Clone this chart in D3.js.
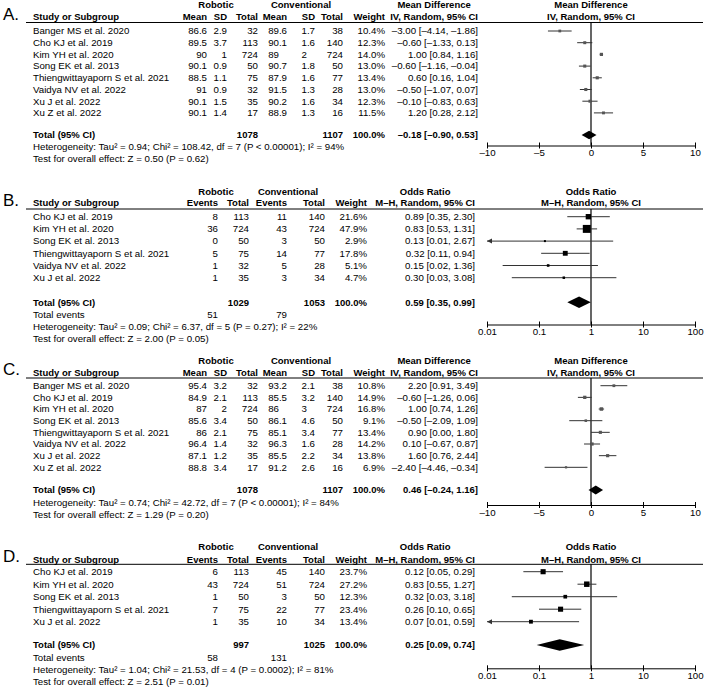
<!DOCTYPE html>
<html><head><meta charset="utf-8">
<script src="https://cdn.jsdelivr.net/npm/d3@7"></script>
<style>
body{margin:0;background:#fff}
text{font-family:"Liberation Sans",Arial,sans-serif;font-size:9.7px;fill:#000}
text.b{font-weight:bold;font-size:9.5px}
</style>
</head><body><svg id="c" width="705" height="688"></svg>
<script>
// ---------- DATA ----------
// Panel A (Mean Difference)
const studiesA = ["Banger MS et al. 2020","Cho KJ et al. 2019","Kim YH et al. 2020","Song EK et al. 2013","Thiengwittayaporn S et al. 2021","Vaidya NV et al. 2022","Xu J et al. 2022","Xu Z et al. 2022"];
const robMeanA = [86.6,89.5,90,90.1,88.5,91,90.1,90.1];
const robSDA = [2.9,3.7,1,0.9,1.1,0.9,1.5,1.4];
const robNA = [32,113,724,50,75,32,35,17];
const conMeanA = [89.6,90.1,89,90.7,87.9,91.5,90.2,88.9];
const conSDA = [1.7,1.6,2,1.8,1.6,1.3,1.6,1.3];
const conNA = [38,140,724,50,77,28,34,16];
const weightA = [10.4,12.3,14.0,13.0,13.4,13.0,12.3,11.5];
const effA = [-3.00,-0.60,1.00,-0.60,0.60,-0.50,-0.10,1.20];
const loA = [-4.14,-1.33,0.84,-1.16,0.16,-1.07,-0.83,0.28];
const hiA = [-1.86,0.13,1.16,-0.04,1.04,0.07,0.63,2.12];
const totalA = {rob:1078, con:1107, est:-0.18, lo:-0.90, hi:0.53};
const hetA = "Heterogeneity: Tau² = 0.94; Chi² = 108.42, df = 7 (P < 0.00001); I² = 94%";
const testA = "Test for overall effect: Z = 0.50 (P = 0.62)";

// Panel B (Odds Ratio)
const studiesB = ["Cho KJ et al. 2019","Kim YH et al. 2020","Song EK et al. 2013","Thiengwittayaporn S et al. 2021","Vaidya NV et al. 2022","Xu J et al. 2022"];
const robEvB = [8,36,0,5,1,1];
const robNB = [113,724,50,75,32,35];
const conEvB = [11,43,3,14,5,3];
const conNB = [140,724,50,77,28,34];
const weightB = [21.6,47.9,2.9,17.8,5.1,4.7];
const effB = [0.89,0.83,0.13,0.32,0.15,0.30];
const loB = [0.35,0.53,0.01,0.11,0.02,0.03];
const hiB = [2.30,1.31,2.67,0.94,1.36,3.08];
const totalB = {rob:1029, con:1053, robEv:51, conEv:79, est:0.59, lo:0.35, hi:0.99};
const hetB = "Heterogeneity: Tau² = 0.09; Chi² = 6.37, df = 5 (P = 0.27); I² = 22%";
const testB = "Test for overall effect: Z = 2.00 (P = 0.05)";

// Panel C (Mean Difference)
const studiesC = ["Banger MS et al. 2020","Cho KJ et al. 2019","Kim YH et al. 2020","Song EK et al. 2013","Thiengwittayaporn S et al. 2021","Vaidya NV et al. 2022","Xu J et al. 2022","Xu Z et al. 2022"];
const robMeanC = [95.4,84.9,87,85.6,86,96.4,87.1,88.8];
const robSDC = [3.2,2.1,2,3.4,2.1,1.4,1.2,3.4];
const robNC = [32,113,724,50,75,32,35,17];
const conMeanC = [93.2,85.5,86,86.1,85.1,96.3,85.5,91.2];
const conSDC = [2.1,3.2,3,4.6,3.4,1.6,2.2,2.6];
const conNC = [38,140,724,50,77,28,34,16];
const weightC = [10.8,14.9,16.8,9.1,13.4,14.2,13.8,6.9];
const effC = [2.20,-0.60,1.00,-0.50,0.90,0.10,1.60,-2.40];
const loC = [0.91,-1.26,0.74,-2.09,0.00,-0.67,0.76,-4.46];
const hiC = [3.49,0.06,1.26,1.09,1.80,0.87,2.44,-0.34];
const totalC = {rob:1078, con:1107, est:0.46, lo:-0.24, hi:1.16};
const hetC = "Heterogeneity: Tau² = 0.74; Chi² = 42.72, df = 7 (P < 0.00001); I² = 84%";
const testC = "Test for overall effect: Z = 1.29 (P = 0.20)";

// Panel D (Odds Ratio)
const studiesD = ["Cho KJ et al. 2019","Kim YH et al. 2020","Song EK et al. 2013","Thiengwittayaporn S et al. 2021","Xu J et al. 2022"];
const robEvD = [6,43,1,7,1];
const robND = [113,724,50,75,35];
const conEvD = [45,51,3,22,10];
const conND = [140,724,50,77,34];
const weightD = [23.7,27.2,12.3,23.4,13.4];
const effD = [0.12,0.83,0.32,0.26,0.07];
const loD = [0.05,0.55,0.03,0.10,0.01];
const hiD = [0.29,1.27,3.18,0.65,0.59];
const totalD = {rob:997, con:1025, robEv:58, conEv:131, est:0.25, lo:0.09, hi:0.74};
const hetD = "Heterogeneity: Tau² = 1.04; Chi² = 21.53, df = 4 (P = 0.0002); I² = 81%";
const testD = "Test for overall effect: Z = 2.51 (P = 0.01)";

// Tick labels
const ticksMD = [-10,-5,0,5,10];
const ticksOR = [0.01,0.1,1,10,100];

// ---------- DRAWING ----------
const svg = d3.select("#c");
const dash = s => String(s).replace(/-/g, "\u2013");
const f2 = v => dash(v.toFixed(2));
const ciText = (e,l,h) => `${f2(e)} [${f2(l)}, ${f2(h)}]`;

const xMD = d3.scaleLinear().domain([-10,10]).range([487,695]);
const xOR = d3.scaleLog().domain([0.01,100]).range([487,695]);

// measure width of ".0" for decimal alignment
const tmp = svg.append("text").text(".0");
const decW = tmp.node().getComputedTextLength();
tmp.remove();

function txt(g, x, y, s, anchor, bold, size) {
  const t = g.append("text").attr("x", x).attr("y", y).attr("dy", "0.35em")
    .attr("text-anchor", anchor || "start").text(s);
  if (bold) t.attr("class", "b");
  if (size) t.style("font-size", size + "px");
  return t;
}
function decTxt(g, xr, y, v) {
  const s = String(v);
  txt(g, s.includes(".") ? xr : xr - decW, y, s, "end");
}

function drawPanel(p) {
  const g = svg.append("g");
  const x = p.type === "MD" ? xMD : xOR;
  const n = p.studies.length;
  const rowY = i => p.row0 + i * p.step;
  const L = p.layout;
  const x0 = x(p.type === "MD" ? 0 : 1);

  txt(g, 3, p.headY - 3, p.label, "start", false, 17);
  // group headers
  txt(g, L.robC, p.groupY, "Robotic", "middle", true);
  txt(g, L.conC, p.groupY, "Conventional", "middle", true);
  // column headers
  txt(g, 33, p.headY, "Study or Subgroup", "start", true);
  p.heads.forEach((h, i) => txt(g, L.cols[i], p.headY, h, "end", true));
  txt(g, L.weight, p.headY, "Weight", "end", true);
  const m = txt(g, L.ci, p.headY, p.method, "end", true);
  const mw = m.node().getComputedTextLength();
  txt(g, L.ci - mw / 2, p.groupY, p.effTitle, "middle", true);
  txt(g, x0, p.groupY, p.effTitle, "middle", true);
  txt(g, x0, p.headY, p.method, "middle", true);
  // header rule
  g.append("line").attr("x1", 26).attr("x2", 703).attr("y1", p.lineY).attr("y2", p.lineY)
    .attr("stroke", "#000").attr("stroke-width", 1);

  // rows
  for (let i = 0; i < n; i++) {
    const y = rowY(i);
    txt(g, 33, y, p.studies[i], "start");
    p.cells.forEach((arr, j) => {
      if (p.decimal[j]) decTxt(g, L.cols[j], y, arr[i]);
      else txt(g, L.cols[j], y, String(arr[i]), "end");
    });
    txt(g, L.weight, y, p.weight[i].toFixed(1) + "%", "end");
    txt(g, L.ci, y, ciText(p.eff[i], p.lo[i], p.hi[i]), "end");
  }

  // zero / null line
  g.append("line").attr("x1", x0).attr("x2", x0).attr("y1", p.lineY).attr("y2", p.axisY)
    .attr("stroke", "#000").attr("stroke-width", 1.2);

  // CIs & squares
  const [dmin] = x.domain();
  for (let i = 0; i < n; i++) {
    const y = rowY(i);
    const clipped = p.lo[i] <= dmin;
    const xl = clipped ? x(dmin) : x(p.lo[i]);
    g.append("line").attr("x1", xl).attr("x2", x(p.hi[i])).attr("y1", y).attr("y2", y)
      .attr("stroke", "#333").attr("stroke-width", 1);
    if (clipped) {
      g.append("path").attr("d", `M${xl},${y}l5,-2.5v5z`).attr("fill", "#333");
    }
    const s = Math.max(2, p.k * Math.sqrt(p.weight[i]));
    g.append("rect").attr("x", x(p.eff[i]) - s / 2).attr("y", y - s / 2)
      .attr("width", s).attr("height", s).attr("fill", p.sqCol);
  }

  // totals
  const ty = p.totalY;
  txt(g, 33, ty, "Total (95% CI)", "start", true);
  txt(g, L.cols[p.robTotCol], ty, String(p.total.rob), "end", true);
  txt(g, L.cols[p.conTotCol], ty, String(p.total.con), "end", true);
  txt(g, L.weight, ty, "100.0%", "end", true);
  txt(g, L.ci, ty, ciText(p.total.est, p.total.lo, p.total.hi), "end", true);
  const h = p.dH;
  g.append("path").attr("d",
    `M${x(p.total.lo)},${ty}L${x(p.total.est)},${ty - h}L${x(p.total.hi)},${ty}L${x(p.total.est)},${ty + h}Z`)
    .attr("fill", "#000");

  if (p.eventsY) {
    txt(g, 33, p.eventsY, "Total events", "start");
    txt(g, L.cols[0], p.eventsY, String(p.total.robEv), "end");
    txt(g, L.cols[2], p.eventsY, String(p.total.conEv), "end");
  }
  txt(g, 33, p.hetY, p.het, "start");
  txt(g, 33, p.testY, p.test, "start");

  // axis
  const ax = d3.axisBottom(x).tickValues(p.ticks).tickSizeOuter(0).tickSizeInner(3)
    .tickFormat(p.type === "MD" ? (d => dash(d)) : (d => String(d)));
  const ag = g.append("g").attr("transform", `translate(0,${p.axisY})`).call(ax);
  ag.select(".domain").attr("stroke", "#000");
  ag.selectAll(".tick line").attr("y1", -3).attr("y2", 3).attr("stroke", "#000");
  ag.selectAll(".tick text").attr("y", 4).attr("dy", "0.71em").attr("font-family", null).attr("font-size", null);
  ag.attr("font-family", null).attr("font-size", null);
}

const layoutMD = {robC: 216, conC: 301, cols: [207, 227, 258, 287, 315, 343], weight: 385, ci: 478};
const layoutOR = {robC: 216, conC: 288, cols: [218, 249, 287, 325], weight: 367, ci: 475};

drawPanel({label: "A.", type: "MD", layout: layoutMD, effTitle: "Mean Difference", method: "IV, Random, 95% CI",
  heads: ["Mean", "SD", "Total", "Mean", "SD", "Total"],
  studies: studiesA, cells: [robMeanA, robSDA, robNA, conMeanA, conSDA, conNA], decimal: [0,0,0,1,1,0],
  weight: weightA, eff: effA, lo: loA, hi: hiA, total: totalA, robTotCol: 2, conTotCol: 5,
  het: hetA, test: testA, ticks: ticksMD, k: 0.85, sqCol: "#555", dH: 4.3,
  groupY: 5, headY: 17, lineY: 22.5, row0: 31, step: 11.7, totalY: 135, hetY: 147, testY: 159, axisY: 145.5});

drawPanel({label: "B.", type: "OR", layout: layoutOR, effTitle: "Odds Ratio", method: "M\u2013H, Random, 95% CI",
  heads: ["Events", "Total", "Events", "Total"],
  studies: studiesB, cells: [robEvB, robNB, conEvB, conNB], decimal: [0,0,0,0],
  weight: weightB, eff: effB, lo: loB, hi: hiB, total: totalB, robTotCol: 1, conTotCol: 3,
  het: hetB, test: testB, ticks: ticksOR, k: 1.15, sqCol: "#000", dH: 5.8,
  groupY: 191.5, headY: 203, lineY: 209, row0: 216.7, step: 12.2, totalY: 302.3, eventsY: 314.3, hetY: 326.7, testY: 338.5, axisY: 324.5});

drawPanel({label: "C.", type: "MD", layout: layoutMD, effTitle: "Mean Difference", method: "IV, Random, 95% CI",
  heads: ["Mean", "SD", "Total", "Mean", "SD", "Total"],
  studies: studiesC, cells: [robMeanC, robSDC, robNC, conMeanC, conSDC, conNC], decimal: [0,0,0,1,1,0],
  weight: weightC, eff: effC, lo: loC, hi: hiC, total: totalC, robTotCol: 2, conTotCol: 5,
  het: hetC, test: testC, ticks: ticksMD, k: 0.85, sqCol: "#555", dH: 4.5,
  groupY: 360.7, headY: 372.3, lineY: 378, row0: 385.7, step: 11.66, totalY: 490, hetY: 502.3, testY: 515, axisY: 505});

drawPanel({label: "D.", type: "OR", layout: layoutOR, effTitle: "Odds Ratio", method: "M\u2013H, Random, 95% CI",
  heads: ["Events", "Total", "Events", "Total"],
  studies: studiesD, cells: [robEvD, robND, conEvD, conND], decimal: [0,0,0,0],
  weight: weightD, eff: effD, lo: loD, hi: hiD, total: totalD, robTotCol: 1, conTotCol: 3,
  het: hetD, test: testD, ticks: ticksOR, k: 1.05, sqCol: "#000", dH: 5.8,
  groupY: 546.7, headY: 559.3, lineY: 564.3, row0: 571.7, step: 12.5, totalY: 645, eventsY: 657.7, hetY: 670, testY: 681.7, axisY: 668.3});
</script>
</body></html>
